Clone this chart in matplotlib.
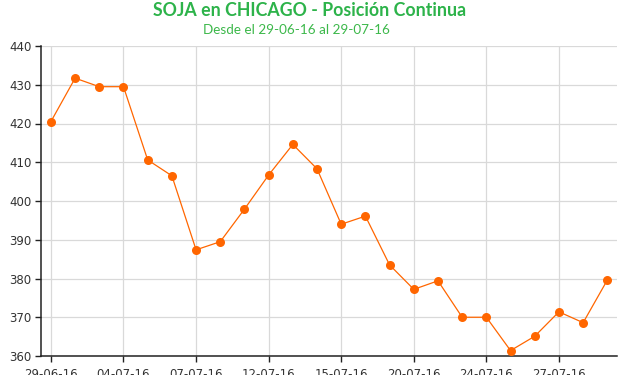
import matplotlib.pyplot as plt
import numpy as np

# precios soja (US$/tn) - 24 ruedas
precios = [420.5, 431.7, 429.5, 429.5, 410.6, 406.5, 387.4, 389.5, 397.9, 406.7,
           414.6, 408.3, 394.0, 396.1, 383.5, 377.2, 379.4, 370.0, 370.0, 361.4,
           365.1, 371.4, 368.6, 379.6]
tick_idx = [0, 3, 6, 9, 12, 15, 18, 21]
tick_lbl = ["29-06-16", "04-07-16", "07-07-16", "12-07-16",
            "15-07-16", "20-07-16", "24-07-16", "27-07-16"]
y_ticks = [360, 370, 380, 390, 400, 410, 420, 430, 440]

fig = plt.figure(figsize=(6.2, 3.75), dpi=100)
ax = fig.add_axes([41/620, 1 - 356/375, 576/620, 310/375])

x = np.arange(len(precios))
ax.plot(x, precios, color="#ff6600", lw=0.9, marker="o", ms=6.5,
        markeredgewidth=0, zorder=3)

ax.set_xlim(-0.41, 23.4)
ax.set_ylim(360, 440)
ax.set_xticks(tick_idx)
ax.set_xticklabels(tick_lbl)
ax.set_yticks(y_ticks)

ax.grid(True, color="#d9d9d9", lw=0.9)
ax.set_axisbelow(True)
for s in ["top", "right"]:
    ax.spines[s].set_visible(False)
ax.spines["left"].set_color("#222222")
ax.spines["bottom"].set_color("#222222")
ax.spines["left"].set_linewidth(1.1)
ax.spines["bottom"].set_linewidth(1.1)
ax.tick_params(axis="both", direction="out", length=4, width=1, color="#222222",
               labelsize=8.5, labelcolor="#333333")
ax.tick_params(axis="x", pad=5)
ax.tick_params(axis="y", pad=3)

fig.text(0.5, 1 - 11/375, "SOJA en CHICAGO - Posición Continua", ha="center", va="center",
         fontsize=12.8, fontweight="bold", color="#2db34a", family="Lato")
fig.text(296/620, 1 - 30/375, "Desde el 29-06-16 al 29-07-16", ha="center", va="center",
         fontsize=9.7, color="#3cb84a", family="Lato")

fig.savefig("out.png", dpi=100)
